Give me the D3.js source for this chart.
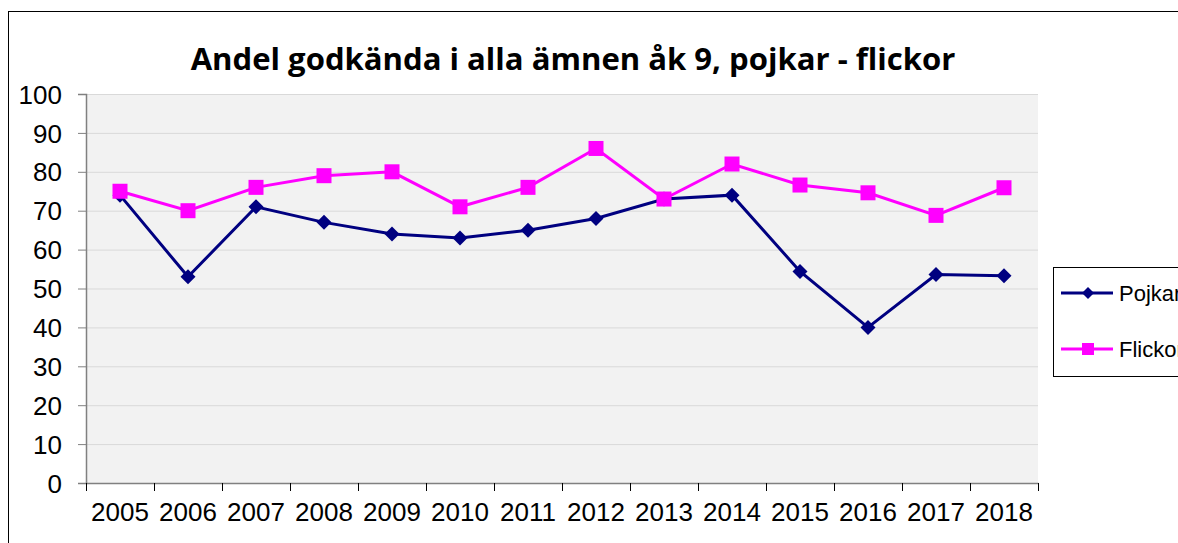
<!DOCTYPE html>
<html><head><meta charset="utf-8">
<script src="https://cdn.jsdelivr.net/npm/d3@7"></script>
<style>html,body{margin:0;padding:0;background:#fff;overflow:hidden}</style>
</head><body>
<svg id="c" width="1178" height="543"></svg>
<script>
const years = ["2005","2006","2007","2008","2009","2010","2011","2012","2013","2014","2015","2016","2017","2018"];
const pojkar = [74, 53, 71, 67, 64, 63, 65, 68, 73, 74, 54.4, 40, 53.6, 53.3];
const flickor = [75, 70, 76, 79, 80, 71, 76, 86, 73, 82, 76.6, 74.6, 68.8, 75.9];
const yTicks = [0,10,20,30,40,50,60,70,80,90,100];
const seriesNames = ["Pojkar","Flickor"];
const title = "Andel godkända i alla ämnen åk 9, pojkar - flickor";

const svg = d3.select("#c");
const m = {left:86, right:1038, top:94, bottom:483};
const FONT = "Liberation Sans, Arial, sans-serif";

// outer chart border
svg.append("rect").attr("x",8.5).attr("y",11.5).attr("width",1200).attr("height",600)
  .attr("fill","#fff").attr("stroke","#000").attr("stroke-width",1);

const x = d3.scaleBand().domain(years).range([m.left,m.right]).padding(0);
const y = d3.scaleLinear().domain([0,100]).range([m.bottom,m.top]);

// plot bg
svg.append("rect").attr("x",m.left).attr("y",m.top).attr("width",m.right-m.left).attr("height",m.bottom-m.top).attr("fill","#f2f2f2");

// gridlines
svg.append("g").selectAll("line").data(yTicks.filter(d=>d>0)).join("line")
  .attr("x1",m.left).attr("x2",m.right).attr("y1",d=>y(d)+0.5).attr("y2",d=>y(d)+0.5)
  .attr("stroke","#d9d9d9").attr("stroke-width",1);

// y axis
const ya = svg.append("g").attr("transform",`translate(${m.left},0)`)
  .call(d3.axisLeft(y).tickValues(yTicks).tickSize(8).tickPadding(16).tickFormat(d3.format("d")));
ya.attr("font-size",null).attr("font-family",null);
ya.select(".domain").attr("stroke","#808080").attr("stroke-width",1.5);
ya.selectAll(".tick line").attr("stroke","#808080");
ya.selectAll("text").style("font-family",FONT).style("font-size","26px").attr("fill","#000").attr("dy","0.35em");

// x axis
const xa = svg.append("g").attr("transform",`translate(0,${m.bottom})`)
  .call(d3.axisBottom(x).tickSize(0).tickPadding(20));
xa.attr("font-size",null).attr("font-family",null);
xa.select(".domain").attr("stroke","#808080").attr("stroke-width",1.5);
xa.selectAll("text").style("font-family",FONT).style("font-size","26px").attr("fill","#000");
// boundary ticks
const bounds = years.map(d=>x(d)).concat([x(years[years.length-1])+x.bandwidth()]);
svg.append("g").selectAll("line").data(bounds).join("line")
  .attr("x1",d=>Math.round(d)+0.5).attr("x2",d=>Math.round(d)+0.5).attr("y1",m.bottom).attr("y2",m.bottom+8)
  .attr("stroke","#000").attr("stroke-width",1);

const cx = d=>x(d)+x.bandwidth()/2;
const line = d3.line().x((d,i)=>cx(years[i])).y(d=>y(d));

// Pojkar
svg.append("path").datum(pojkar).attr("d",line).attr("fill","none").attr("stroke","#000080").attr("stroke-width",3);
svg.append("g").selectAll("path").data(pojkar).join("path")
  .attr("d","M0,-7.5L7.5,0L0,7.5L-7.5,0Z")
  .attr("transform",(d,i)=>`translate(${cx(years[i])},${y(d)})`)
  .attr("fill","#000080");
// Flickor
svg.append("path").datum(flickor).attr("d",line).attr("fill","none").attr("stroke","#ff00ff").attr("stroke-width",3);
svg.append("g").selectAll("rect").data(flickor).join("rect")
  .attr("x",(d,i)=>cx(years[i])-7.5).attr("y",d=>y(d)-7.5).attr("width",15).attr("height",15)
  .attr("fill","#ff00ff");

// title
const t = svg.append("text").attr("x",573).attr("y",70).attr("text-anchor","middle")
  .attr("font-family","Open Sans, sans-serif").attr("font-weight","bold").attr("font-size",26)
  .attr("fill","#000").text(title);
const tl = t.node().getComputedTextLength();
t.attr("font-size", 26*765/tl);

// legend
const lg = svg.append("g");
lg.append("rect").attr("x",1053.5).attr("y",267.5).attr("width",200).attr("height",109)
  .attr("fill","#fff").attr("stroke","#000").attr("stroke-width",1);
const ly = [293, 349];
const lc = ["#000080","#ff00ff"];
seriesNames.forEach((n,i)=>{
  lg.append("line").attr("x1",1061).attr("x2",1113).attr("y1",ly[i]).attr("y2",ly[i]).attr("stroke",lc[i]).attr("stroke-width",3);
  if(i===0) lg.append("path").attr("d","M0,-6L6,0L0,6L-6,0Z").attr("transform",`translate(1088,${ly[i]})`).attr("fill",lc[i]);
  else lg.append("rect").attr("x",1082).attr("y",ly[i]-6).attr("width",12).attr("height",12).attr("fill",lc[i]);
  lg.append("text").attr("x",1119).attr("y",ly[i]+8).attr("font-family",FONT)
    .attr("font-size",22).attr("fill","#000").text(n);
});
</script>
</body></html>
